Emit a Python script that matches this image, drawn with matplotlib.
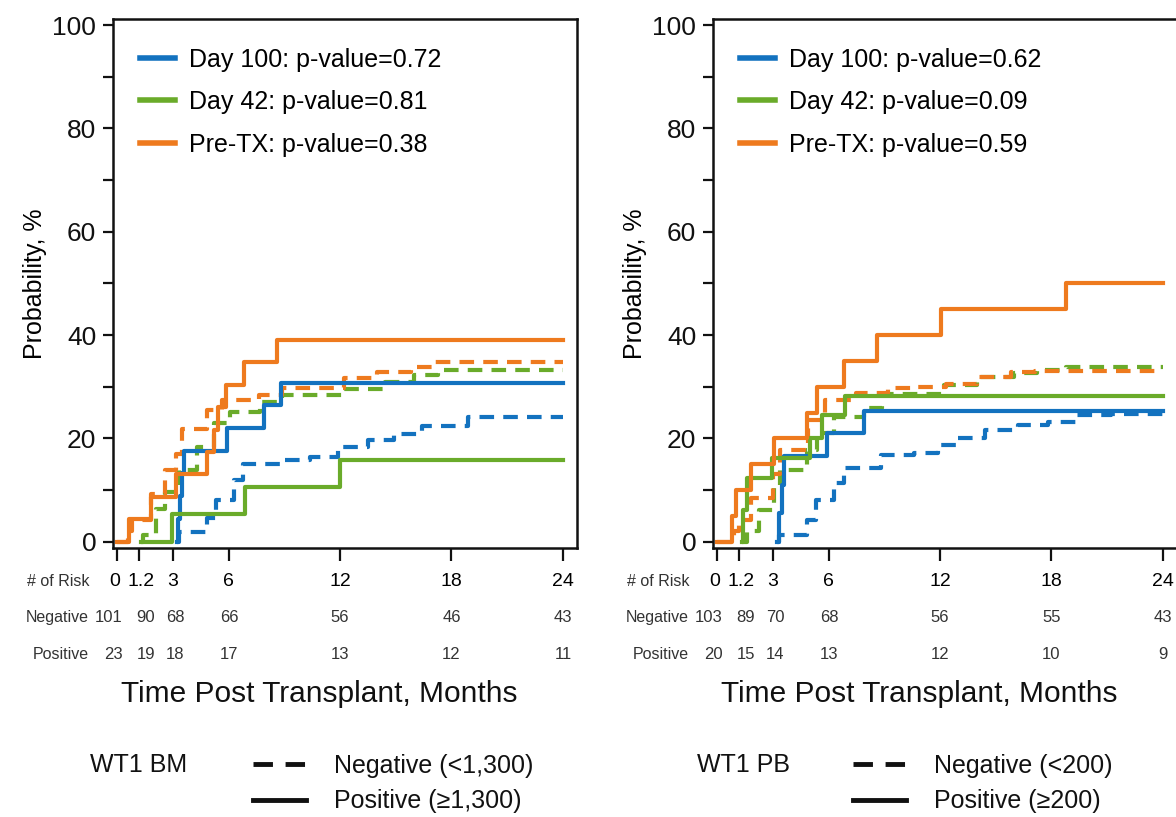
import matplotlib
matplotlib.use("Agg")
import matplotlib.pyplot as plt
from matplotlib.lines import Line2D

plt.rcParams['font.family'] = ['Liberation Sans', 'DejaVu Sans']

BLUE = '#1372bf'
GREEN = '#6aab2a'
ORANGE = '#ee7a1e'

# ---- WT1 BM panel (left) ----
bm_d100_pos_t = [3.25, 3.3, 3.4, 3.5, 3.6, 5.93, 7.9, 8.8, 24]
bm_d100_pos_p = [0, 4.4, 8.8, 13.2, 17.6, 22.0, 26.4, 30.8, 30.8]
bm_d100_neg_t = [3.25, 3.35, 4.85, 5.3, 6.3, 6.8, 8.9, 10.4, 11.9, 13.5, 14.9, 16.4, 18.9, 24]
bm_d100_neg_p = [0, 1.8, 4.5, 8.0, 12.0, 15.1, 15.8, 16.4, 18.3, 19.6, 20.9, 22.3, 24.1, 24.1]
bm_d42_pos_t = [1.3, 2.97, 6.9, 12.0, 24]
bm_d42_pos_p = [0, 5.3, 10.5, 15.8, 15.8]
bm_d42_neg_t = [1.3, 1.4, 2.07, 2.6, 3.33, 4.32, 5.2, 6.1, 7.7, 8.9, 12.2, 14.4, 16.0, 17.3, 24]
bm_d42_neg_p = [0, 1.3, 6.4, 9.6, 13.8, 18.3, 22.9, 25.1, 27.0, 28.4, 29.6, 31.0, 32.2, 33.2, 33.2]
bm_pre_pos_t = [0, 0.63, 1.8, 3.15, 4.85, 5.2, 5.45, 5.85, 6.83, 8.63, 24]
bm_pre_pos_p = [0, 4.3, 8.7, 13.0, 17.4, 21.7, 26.1, 30.4, 34.8, 39.1, 39.1]
bm_pre_neg_t = [0, 0.6, 0.81, 1.8, 2.6, 3.15, 3.5, 4.86, 5.67, 7.64, 8.9, 12.2, 14.0, 15.8, 17.1, 24]
bm_pre_neg_p = [0, 2.0, 4.2, 9.3, 13.8, 17.0, 21.9, 25.5, 27.4, 28.4, 29.7, 31.6, 32.9, 33.9, 34.8, 34.8]
bm_pvals = ['0.72', '0.81', '0.38']
bm_risk_neg = ['101', '90', '68', '66', '56', '46', '43']
bm_risk_pos = ['23', '19', '18', '17', '13', '12', '11']
bm_group = 'WT1 BM'
bm_labels = ['Negative (<1,300)', 'Positive (\u22651,300)']

# ---- WT1 PB panel (right) ----
pb_d100_pos_t = [3.24, 3.35, 3.5, 3.6, 5.93, 7.9, 24]
pb_d100_pos_p = [0, 5.5, 11.0, 16.5, 21.0, 25.2, 25.2]
pb_d100_neg_t = [3.24, 3.35, 4.86, 5.3, 6.3, 6.83, 8.8, 10.6, 11.9, 12.95, 14.4, 16.2, 17.8, 19.4, 21.2, 24]
pb_d100_neg_p = [0, 1.3, 4.2, 8.0, 11.3, 14.2, 16.8, 17.1, 18.7, 20.0, 21.6, 22.6, 23.2, 24.5, 24.8, 24.8]
pb_d42_pos_t = [1.35, 1.42, 1.6, 2.95, 5.0, 5.65, 6.9, 24]
pb_d42_pos_p = [0, 6.2, 12.3, 16.1, 20.0, 24.5, 28.1, 28.1]
pb_d42_neg_t = [1.35, 1.6, 2.25, 3.05, 3.4, 4.85, 5.4, 6.3, 7.9, 8.9, 12.2, 14.0, 16.0, 17.2, 18.8, 24]
pb_d42_neg_p = [0, 2.0, 6.1, 10.6, 13.9, 17.7, 21.0, 24.2, 25.8, 28.5, 30.3, 31.9, 32.6, 33.2, 33.9, 33.9]
pb_pre_pos_t = [0, 0.8, 1.0, 1.8, 3.06, 4.86, 5.4, 6.83, 8.63, 12.05, 18.8, 24]
pb_pre_pos_p = [0, 5, 10, 15, 20, 25, 30, 35, 40, 45, 50, 50]
pb_pre_neg_t = [0, 0.9, 1.2, 1.8, 3.0, 3.4, 4.9, 5.8, 7.5, 9.2, 10.8, 12.3, 14.0, 15.8, 17.1, 24]
pb_pre_neg_p = [0, 2.0, 4.2, 8.4, 13.0, 17.7, 23.5, 27.4, 28.7, 29.7, 30.0, 30.6, 31.8, 32.9, 33.0, 33.0]
pb_pvals = ['0.62', '0.09', '0.59']
pb_risk_neg = ['103', '89', '70', '68', '56', '55', '43']
pb_risk_pos = ['20', '15', '14', '13', '12', '10', '9']
pb_group = 'WT1 PB'
pb_labels = ['Negative (<200)', 'Positive (\u2265200)']

risk_times = [0, 1.2, 3, 6, 12, 18, 24]
risk_time_labels = ['0', '1.2', '3', '6', '12', '18', '24']
series_names = ['Day 100', 'Day 42', 'Pre-TX']

# small horizontal nudges (points) so the crowded first columns don't collide
head_nudge = [-1.5, 1.5, 0, 0, 0, 0, 0]
neg_nudge = [-6, 4.5, 1.5, 0.5, 0, 0, 0]
pos_nudge = [-2.5, 4.5, 1.5, 0, 0, 0, 0]


def draw_panel(ax, curves, pvals, risk_neg, risk_pos, group, labels, group_x):
    colors = [BLUE, GREEN, ORANGE]
    handles = []
    # dashed (negative) first, then solid (positive)
    for (pos_t, pos_p, neg_t, neg_p), c in zip(curves, colors):
        ax.plot(neg_t, neg_p, drawstyle='steps-post', color=c, lw=3,
                dashes=(3.5, 2.2), solid_capstyle='butt')
    for (pos_t, pos_p, neg_t, neg_p), c, name, pv in zip(curves, colors, series_names, pvals):
        h, = ax.plot(pos_t, pos_p, drawstyle='steps-post', color=c, lw=3,
                     label=f'{name}: p-value={pv}')
        handles.append(h)

    ax.set_xlim(-0.22, 24.76)
    ax.set_ylim(-1.22, 101.16)
    ax.set_yticks(range(0, 101, 10))
    ax.set_yticklabels([str(v) if v % 20 == 0 else '' for v in range(0, 101, 10)])
    ax.set_xticks(risk_times)
    ax.set_xticklabels([])
    ax.tick_params(axis='both', direction='out', length=7, width=1.6, labelsize=19, pad=5, colors='#111111')
    ax.tick_params(axis='x', length=9)
    for s in ax.spines.values():
        s.set_linewidth(1.8)
        s.set_color('#111111')
    ax.set_ylabel('Probability, %', fontsize=18, labelpad=4)

    leg = ax.legend(handles=handles, loc='upper left', bbox_to_anchor=(0.058, 0.946),
                    frameon=False, fontsize=18, handlelength=1.4, handletextpad=0.55,
                    labelspacing=0.74, borderpad=0, borderaxespad=0)
    for line in leg.get_lines():
        line.set_linewidth(4)

    # risk table
    tr = ax.get_xaxis_transform()
    rows_y = [-0.064, -0.132, -0.202]
    for y, name in zip(rows_y, ['# of Risk', 'Negative', 'Positive']):
        ax.text(-1.5, y, name, transform=tr, ha='right', va='center', fontsize=11.5, color='#333333')
    for i, t in enumerate(risk_times):
        ax.annotate(risk_time_labels[i], xy=(t, rows_y[0]), xycoords=tr, xytext=(head_nudge[i], 0),
                    textcoords='offset points', ha='center', va='center', fontsize=14, color='black')
        ax.annotate(risk_neg[i], xy=(t, rows_y[1]), xycoords=tr, xytext=(neg_nudge[i], 0),
                    textcoords='offset points', ha='center', va='center', fontsize=12, color='#333333')
        ax.annotate(risk_pos[i], xy=(t, rows_y[2]), xycoords=tr, xytext=(pos_nudge[i], 0),
                    textcoords='offset points', ha='center', va='center', fontsize=12, color='#333333')

    ax.text(10.9, -0.276, 'Time Post Transplant, Months', transform=tr, ha='center', va='center',
            fontsize=21.5, color='#111111')

    # line-style key below
    ax.text(group_x, -0.41, group, transform=tr, ha='left', va='center', fontsize=18, color='#111111')
    key = [Line2D([], [], color='#111111', lw=3.5, dashes=(4, 2.6)),
           Line2D([], [], color='#111111', lw=3.5)]
    ax.add_artist(leg)
    ax.legend(key, labels, loc='upper left', bbox_to_anchor=(0.302, -0.39), frameon=False,
              fontsize=18, handlelength=2.1, handletextpad=1.15, labelspacing=0.45,
              borderpad=0, borderaxespad=0, labelcolor='#111111')


fig = plt.figure(figsize=(11.76, 8.17), dpi=100)
ax1 = fig.add_axes([0.0961, 0.3293, 0.3946, 0.6474])
ax2 = fig.add_axes([0.6063, 0.3293, 0.3946, 0.6474])

bm_curves = [(bm_d100_pos_t, bm_d100_pos_p, bm_d100_neg_t, bm_d100_neg_p),
             (bm_d42_pos_t, bm_d42_pos_p, bm_d42_neg_t, bm_d42_neg_p),
             (bm_pre_pos_t, bm_pre_pos_p, bm_pre_neg_t, bm_pre_neg_p)]
pb_curves = [(pb_d100_pos_t, pb_d100_pos_p, pb_d100_neg_t, pb_d100_neg_p),
             (pb_d42_pos_t, pb_d42_pos_p, pb_d42_neg_t, pb_d42_neg_p),
             (pb_pre_pos_t, pb_pre_pos_p, pb_pre_neg_t, pb_pre_neg_p)]

draw_panel(ax1, bm_curves, bm_pvals, bm_risk_neg, bm_risk_pos, bm_group, bm_labels, -1.45)
draw_panel(ax2, pb_curves, pb_pvals, pb_risk_neg, pb_risk_pos, pb_group, pb_labels, -1.08)

fig.savefig('out.png', dpi=100)
